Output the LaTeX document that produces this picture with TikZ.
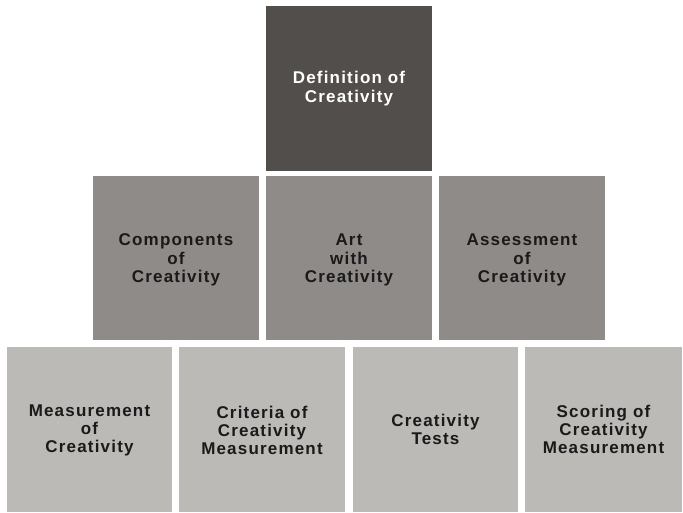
\documentclass[tikz,border=0pt]{standalone}
\usepackage{fontspec}
\setmainfont{Liberation Sans}[LetterSpace=7]
\definecolor{topc}{HTML}{524E4B}
\definecolor{midc}{HTML}{8F8B88}
\definecolor{botc}{HTML}{BCBAB7}
\definecolor{txt}{HTML}{1A1A1A}
\begin{document}
\begin{tikzpicture}[x=1pt,y=-1pt,
  blk/.style={inner sep=0pt, outer sep=0pt, align=center,
    font=\fontsize{17}{18.3}\selectfont\bfseries, text=txt},
  lvl1/.style={blk, fill=topc, text=white},
  lvl2/.style={blk, fill=midc},
  lvl3/.style={blk, fill=botc}]
\useasboundingbox[fill=white] (0,0) rectangle (683,513);
\newcommand{\boxat}[8]{%
  \path[#6] (#2,#3) rectangle (#4,#5);
  \node[#6, fill=none] (#1) at ({(#2+#4)/2},{(#3+#5)/2+#7}) {#8};}
\boxat{def}{266}{6}{432}{171}{lvl1}{0}{Definition of\\Creativity}
\boxat{comp}{93}{176}{259}{340}{lvl2}{2}{Components\\of\\Creativity}
\boxat{art}{266}{176}{432}{340}{lvl2}{2}{Art\\with\\Creativity}
\boxat{assess}{439}{176}{605}{340}{lvl2}{2}{Assessment\\of\\Creativity}
\boxat{meas}{7}{347}{172}{512}{lvl3}{1}{Measurement\\of\\Creativity}
\boxat{crit}{179}{347}{345}{512}{lvl3}{1}{Criteria of\\Creativity\\Measurement}
\boxat{tests}{353}{347}{518}{512}{lvl3}{0}{Creativity\\Tests}
\boxat{score}{525}{347}{682}{512}{lvl3}{0}{Scoring of\\Creativity\\Measurement}
\end{tikzpicture}
\end{document}
